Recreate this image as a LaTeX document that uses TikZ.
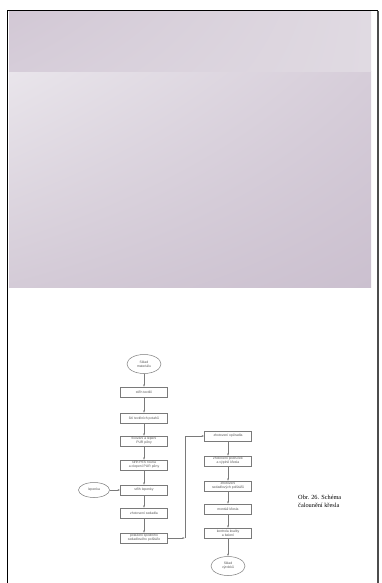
\documentclass[tikz,border=0pt]{standalone}
\usepackage{fontspec}
\setmainfont{Liberation Sans}
\newfontfamily\capfont{Liberation Serif}
\usetikzlibrary{shapes.geometric,arrows.meta,shadings}
\definecolor{lin}{HTML}{7A7A7A}
\definecolor{txt}{HTML}{555555}
\definecolor{pUL}{RGB}{233,229,235}
\definecolor{pUR}{RGB}{214,205,217}
\definecolor{pLL}{RGB}{212,203,215}
\definecolor{pLR}{RGB}{203,192,207}
\definecolor{tUL}{RGB}{210,200,213}
\definecolor{tUR}{RGB}{224,218,226}
\definecolor{tLL}{RGB}{214,205,217}
\definecolor{tLR}{RGB}{224,218,226}
\tikzset{
  procbox/.style={draw=lin, line width=0.5pt, minimum width=47pt, minimum height=9.5pt, inner sep=0.8pt, align=center, font=\fontsize{3.4}{4}\selectfont, text=txt},
  termell/.style={ellipse, draw=lin, line width=0.5pt, minimum width=34pt, minimum height=19pt, inner sep=0pt, align=center, font=\fontsize{3.4}{4}\selectfont, text=txt},
  flow/.style={draw=lin, line width=0.5pt, -{Latex[length=2.5pt,width=2pt]}}
}
\begin{document}
\begin{tikzpicture}[x=1pt,y=-1pt]
\useasboundingbox (0,0) rectangle (381,583);
\fill[white] (0,0) rectangle (381,583);
% background panels
\shade[upper left=pUL, upper right=pUR, lower left=pLL, lower right=pLR] (9,72) rectangle (371,287);
\shade[upper left=tUL, upper right=tUR, lower left=tLL, lower right=tLR] (9,12) rectangle (371,72);
% frame
\draw[black, line width=1.5pt] (7.5,583) -- (7.5,10.5) -- (378,10.5);
\draw[black!70, line width=1.5pt] (378,11) -- (378,583);
% left column
\node[termell] (s1) at (144,364) {Sklad\\materiálu};
\node[procbox] (b1) at (144,392) {střih textilií};
\node[procbox] (b2) at (144,418) {šití textilních potahů};
\node[procbox] (b3) at (144,441) {fixování a lepení\\PUR pěny};
\node[procbox] (b4) at (144,465) {střih PES rouna\\a olepení PUR pěny};
\node[procbox] (b5) at (144,490) {střih lepenky};
\node[termell, minimum width=31pt, minimum height=15pt] (lp) at (94,490) {lepenka};
\node[procbox] (b6) at (144,513) {zhotovení sedadla};
\node[procbox] (b7) at (144,538) {potažení spodního\\sedadlového polštáře};
% right column
\node[procbox] (r1) at (228,436) {zhotovení opěradla};
\node[procbox] (r2) at (228,461) {zhotovení područek\\a výplně křesla};
\node[procbox] (r3) at (228,486) {zhotovení\\sedadlových polštářů};
\node[procbox] (r4) at (228,509) {montáž křesla};
\node[procbox] (r5) at (228,533) {kontrola kvality\\a balení};
\node[termell] (s2) at (228,566) {Sklad\\výrobků};
\coordinate (c1) at (185,538);
\coordinate (c2) at (185,436);
% connectors
\draw[flow] (s1) -- (b1);
\draw[flow] (b1) -- (b2);
\draw[flow] (b2) -- (b3);
\draw[flow] (b3) -- (b4);
\draw[flow] (b4) -- (b5);
\draw[flow] (lp) -- (b5);
\draw[flow] (b5) -- (b6);
\draw[flow] (b6) -- (b7);
\draw[flow] (b7.east) -- (c1);
\draw[flow] (c1) -- (c2) -- (r1.west);
\draw[flow] (r1) -- (r2);
\draw[flow] (r2) -- (r3);
\draw[flow] (r3) -- (r4);
\draw[flow] (r4) -- (r5);
\draw[flow] (r5) -- (s2);
% caption
\node[anchor=north west, align=left, inner sep=0pt, font=\capfont\fontsize{6.3}{7.6}\selectfont] (cap) at (298,495) {Obr. 26. Schéma\\čalounění křesla};
\end{tikzpicture}
\end{document}
